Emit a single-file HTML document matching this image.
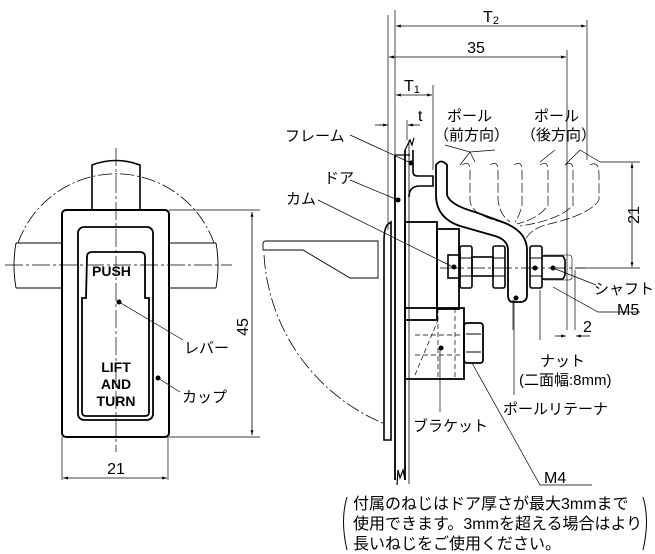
<!DOCTYPE html>
<html><head><meta charset="utf-8"><style>
html,body{margin:0;padding:0;background:#fff;width:655px;height:554px;overflow:hidden}
svg{display:block}
text{font-family:"Liberation Sans","Noto Sans CJK JP",sans-serif;fill:#000}
</style></head><body>
<svg width="655" height="554" viewBox="0 0 655 554" xmlns="http://www.w3.org/2000/svg">
<defs>
<marker id="a" viewBox="0 0 10 10" refX="10" refY="5" markerWidth="8" markerHeight="6" orient="auto-start-reverse"><path d="M0,2 L10,5 L0,8 z" fill="#000"/></marker>
</defs>
<g fill="none" stroke="#000">
<!-- LEFT VIEW -->
<path d="M18,243 A104,104 0 0 1 214,243" stroke-width="0.8" stroke-dasharray="14,3,2,3"/>
<path d="M16,243 L62,243 M16,288 L62,288 M168,243 L216,243 M168,288 L216,288 M16,243 Q12,265 16,288 M216,243 Q220,265 216,288" stroke-width="0.9"/>
<path d="M92,210 L92,165 Q116,156 140,165 L140,210" stroke-width="1.6"/>
<rect x="62" y="210" width="107" height="227" rx="4" stroke-width="2"/>
<rect x="78" y="227" width="75" height="193" rx="6" stroke-width="1.8"/>
<path d="M82,298 L86,298 L87,257 Q87,252 92,252 L140,252 Q145,252 145,257 L145,298 L149,298 L149,412 Q149,416 145,416 L86,416 Q82,416 82,412 Z" stroke-width="1.8"/>
<path d="M5,265 L232,265 M116,148 L116,452" stroke-width="0.7" stroke-dasharray="18,3,3,3"/>
<path d="M169,210 L260,210 M169,437 L260,437 M62,437 L62,480 M168,437 L168,480" stroke-width="0.7"/>
<line x1="252" y1="212" x2="252" y2="435" stroke-width="0.8" marker-start="url(#a)" marker-end="url(#a)"/>
<line x1="63" y1="478" x2="167" y2="478" stroke-width="0.8" marker-start="url(#a)" marker-end="url(#a)"/>
<path d="M119,302 L183,340 M158,378 L180,392" stroke-width="0.7"/>

<!-- RIGHT VIEW background -->
<path d="M264,255 A195,195 0 0 0 385,424" stroke-width="0.8" stroke-dasharray="14,3,2,3"/>
<path d="M263,250 L263,244 Q263,241 266,241 L378,241 L378,278 L350,278 L303,250 Z" stroke-width="0.9"/>
<!-- door / frame plates -->
<path d="M387,225 Q384,230 384,240 L384,440 L391,440 L391,222 Z" stroke-width="1.6"/>
<path d="M395,155 L395,480 M405,150 L405,480" stroke-width="1.8"/>
<path d="M395,155 L410,155 M405,150 L410,140 L412,145 L414,138" stroke-width="1.2"/>
<path d="M405,480 L403,470 L400,478 L398,470 L397,485" stroke-width="1.2"/>
<path d="M409,140 L409,484" stroke-width="0.8"/>
<path d="M413,150 L413,172 Q413,176 418,176 L433,176 L433,186 L420,186 Q409,186 409,197" stroke-width="1.6"/>
<!-- cam -->
<rect x="405" y="222" width="32" height="98" stroke-width="1.8"/>
<rect x="437" y="229" width="22" height="80" stroke-width="1.8"/>
<!-- bracket -->
<rect x="405" y="308" width="59" height="71" stroke-width="1.8"/>
<path d="M415,375 L438,320 M415,335 L464,335 M415,355 L464,355 M438,308 L438,379 M455,308 L455,379" stroke-width="0.7" stroke-dasharray="5,3"/>
<rect x="464" y="323" width="19" height="40" rx="3" stroke-width="1.8"/>
<path d="M466,334 L481,334 M466,352 L481,352" stroke-width="1"/>
<!-- ghost pawls -->
<g stroke-width="0.7" stroke-dasharray="10,3">
<path d="M462,165 Q470,160 470,170 L470,200 Q470,215 505,223"/>
<path d="M490,165 Q498,160 498,170 L498,200 Q500,215 510,222"/>
<path d="M514,165 Q522,160 522,170 L522,205 Q520,215 515,222"/>
<path d="M540,165 Q548,160 548,170 L548,205 Q540,218 517,224"/>
<path d="M565,165 Q573,160 573,170 L573,205 Q560,220 520,226"/>
<path d="M590,165 Q599,160 599,175 L599,200 Q590,215 545,225 Q530,230 525,240"/>
</g>
<!-- pawl -->
<path d="M436,165 Q441,158 447,165 L447,195 Q450,205 475,212 L505,223 Q527,232 527,250 L527,295 Q527,302 520,302 L513,302 Q508,302 508,295 L508,250 Q508,240 495,236 L460,226 Q436,218 436,195 Z" stroke-width="1.8"/>
<!-- shaft & nuts -->
<rect x="448" y="255" width="12" height="23" stroke-width="1.6"/>
<rect x="472" y="257" width="21" height="19" stroke-width="1.6"/>
<rect x="460" y="246" width="12" height="42" rx="2" stroke-width="1.6"/>
<path d="M460,258 L472,258 M460,276 L472,276" stroke-width="1"/>
<rect x="493" y="246" width="12" height="42" rx="2" stroke-width="1.6"/>
<path d="M493,258 L505,258 M493,276 L505,276" stroke-width="1"/>
<rect x="530" y="246" width="12" height="42" rx="2" stroke-width="1.6"/>
<path d="M530,258 L542,258 M530,276 L542,276" stroke-width="1"/>
<path d="M542,256 L563,256 L565,260 L565,275 L563,279 L542,279" stroke-width="1.6"/>
<rect x="542" y="255" width="30" height="25" rx="3" stroke-width="0.6"/>
<path d="M440,268 L585,268" stroke-width="0.7" stroke-dasharray="18,3,3,3"/>
<!-- extension lines -->
<path d="M388,15 L388,230 M395,10 L395,160 M433,85 L433,170 M407,120 L407,140 M567,50 L567,330 M587,20 L587,160 M575,270 L575,330 M600,162 L640,162 M575,268 L640,268 M513,300 L513,330 M540,290 L540,340" stroke-width="0.7"/>
<line x1="396" y1="26" x2="586" y2="26" stroke-width="0.8" marker-start="url(#a)" marker-end="url(#a)"/>
<line x1="389" y1="57" x2="566" y2="57" stroke-width="0.8" marker-start="url(#a)" marker-end="url(#a)"/>
<line x1="396" y1="95" x2="432" y2="95" stroke-width="0.8" marker-start="url(#a)" marker-end="url(#a)"/>
<path d="M375,125 L387,125 M408,125 L420,125" stroke-width="0.8"/>
<line x1="380" y1="125" x2="388" y2="125" stroke-width="0.8" marker-end="url(#a)"/>
<line x1="415" y1="125" x2="408" y2="125" stroke-width="0.8" marker-end="url(#a)"/>
<line x1="632" y1="163" x2="632" y2="267" stroke-width="0.8" marker-start="url(#a)" marker-end="url(#a)"/>
<line x1="555" y1="336" x2="566" y2="336" stroke-width="0.8" marker-end="url(#a)"/>
<line x1="590" y1="336" x2="576" y2="336" stroke-width="0.8" marker-end="url(#a)"/>
<!-- leaders -->
<g stroke-width="0.7">
<path d="M350,135 L411,163 M350,180 L398,200 M318,200 L453,267"/>
<path d="M445,145 L470,152 L475,162 M495,150 L470,152 M470,152 L460,165"/>
<path d="M555,150 L540,162 M580,150 L565,165 M580,150 L600,162"/>
<path d="M553,268 L596,285 M553,287 L598,312 L640,312"/>
<path d="M514,300 L514,395 M472,363 L540,485 L592,485"/>
<path d="M440,350 L440,412"/>
</g>
<path d="M347,497 Q340,520 347,550 M643,497 Q650,520 643,550" stroke-width="1"/>
</g>
<g fill="#000">
<circle cx="119" cy="302" r="2.5"/><circle cx="158" cy="378" r="2.5"/>
<circle cx="411" cy="163" r="2.5"/><circle cx="398" cy="200" r="2.5"/><circle cx="454" cy="267" r="2.5"/>
<circle cx="535" cy="268" r="2.5"/><circle cx="553" cy="268" r="2.5"/><circle cx="441" cy="348" r="2.5"/><circle cx="516" cy="298" r="2.5"/>
</g>
<g font-size="15">
<text x="92" y="276" font-weight="bold" font-size="14">PUSH</text>
<text x="116" y="372" font-weight="bold" font-size="14" text-anchor="middle">LIFT</text>
<text x="116" y="389" font-weight="bold" font-size="14" text-anchor="middle">AND</text>
<text x="116" y="406" font-weight="bold" font-size="14" text-anchor="middle">TURN</text>
<text x="184" y="353">レバー</text>
<text x="182" y="402">カップ</text>
<text x="248" y="327" font-size="16" text-anchor="middle" transform="rotate(-90 248 327)">45</text>
<text x="116" y="474" font-size="16" text-anchor="middle">21</text>
<text x="491" y="22" font-size="16" text-anchor="middle">T<tspan font-size="11" dy="2">2</tspan></text>
<text x="476" y="53" font-size="16" text-anchor="middle">35</text>
<text x="404" y="91" font-size="16">T<tspan font-size="11" dy="2">1</tspan></text>
<text x="418" y="121" font-size="16">t</text>
<text x="447" y="121">ポール</text>
<text x="434" y="140">（前方向）</text>
<text x="534" y="121">ポール</text>
<text x="521" y="140">（後方向）</text>
<text x="285" y="141">フレーム</text>
<text x="324" y="183">ドア</text>
<text x="286" y="204">カム</text>
<text x="639" y="215" font-size="16" text-anchor="middle" transform="rotate(-90 639 215)">21</text>
<text x="594" y="294">シャフト</text>
<text x="617" y="315" font-size="16">M5</text>
<text x="583" y="332" font-size="16">2</text>
<text x="540" y="366">ナット</text>
<text x="519" y="385">(二面幅:8mm)</text>
<text x="503" y="414">ポールリテーナ</text>
<text x="413" y="431">ブラケット</text>
<text x="544" y="483" font-size="16">M4</text>
</g>
<g font-size="16">
<text x="353" y="509">付属のねじはドア厚さが最大3mmまで</text>
<text x="353" y="529">使用できます。3mmを超える場合はより</text>
<text x="353" y="549">長いねじをご使用ください。</text>
</g>
</svg>
</body></html>
